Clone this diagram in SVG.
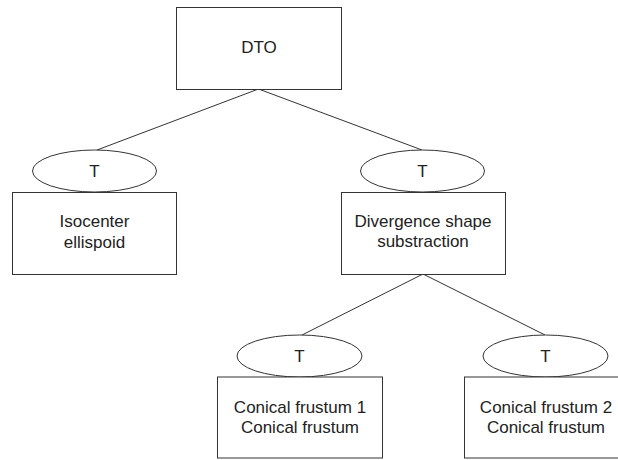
<svg xmlns="http://www.w3.org/2000/svg" width="618" height="460" viewBox="0 0 618 460">
<style>
.box{fill:#fff;stroke:#333;stroke-width:1}
.ell{fill:#fff;stroke:#333;stroke-width:1}
.lbl{font-family:"Liberation Sans",Arial,sans-serif;font-size:17px;fill:#222;text-anchor:middle}
.con{stroke:#333;stroke-width:1;fill:none}
</style>
<rect width="618" height="460" fill="#fff"/>
<g id="connectors">
<line class="con" x1="258.5" y1="89" x2="97" y2="150"/>
<line class="con" x1="258.5" y1="89" x2="422" y2="150"/>
<line class="con" x1="423" y1="274" x2="302" y2="335"/>
<line class="con" x1="423" y1="274" x2="545" y2="335"/>
</g>
<g id="dto">
<rect class="box" x="176.5" y="7.5" width="165" height="82"/>
<text class="lbl" x="259" y="53">DTO</text>
</g>
<g id="t1">
<ellipse class="ell" cx="94.5" cy="171" rx="62" ry="21"/>
<text class="lbl" x="94.5" y="177">T</text>
</g>
<g id="isocenter">
<rect class="box" x="12.5" y="192.5" width="164" height="82"/>
<text class="lbl" x="94.5" y="227">Isocenter</text>
<text class="lbl" x="94.5" y="248">ellispoid</text>
</g>
<g id="t2">
<ellipse class="ell" cx="422.5" cy="171" rx="62" ry="21"/>
<text class="lbl" x="422.5" y="177">T</text>
</g>
<g id="divergence">
<rect class="box" x="341.5" y="192.5" width="164" height="82"/>
<text class="lbl" x="423" y="227">Divergence shape</text>
<text class="lbl" x="423" y="247">substraction</text>
</g>
<g id="t3">
<ellipse class="ell" cx="299.5" cy="356" rx="62.5" ry="21"/>
<text class="lbl" x="299.5" y="362">T</text>
</g>
<g id="frustum1">
<rect class="box" x="217.5" y="377" width="165" height="81"/>
<text class="lbl" x="300" y="413">Conical frustum 1</text>
<text class="lbl" x="300" y="433">Conical frustum</text>
</g>
<g id="t4">
<ellipse class="ell" cx="545.5" cy="356" rx="62.5" ry="21"/>
<text class="lbl" x="545.5" y="362">T</text>
</g>
<g id="frustum2">
<rect class="box" x="464.5" y="377" width="165" height="81"/>
<text class="lbl" x="546" y="413">Conical frustum 2</text>
<text class="lbl" x="546" y="433">Conical frustum</text>
</g>
</svg>
